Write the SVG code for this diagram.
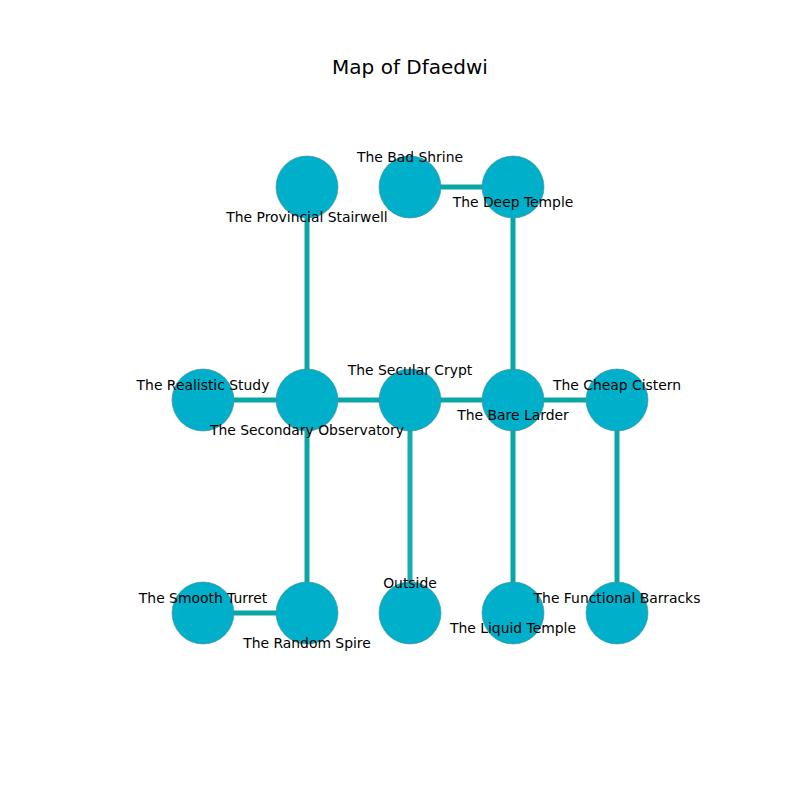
<svg xmlns="http://www.w3.org/2000/svg" width="800" height="800" viewBox="0 0 800 800">
<style>
.e{stroke:#0aa5a5;stroke-width:5;fill:none}
.n{fill:#00b0ca;stroke:#4a8a94;stroke-width:0.6}
.l{font-family:"DejaVu Sans",sans-serif;font-size:13.9px;fill:#000;text-anchor:middle}
.t{font-family:"DejaVu Sans",sans-serif;font-size:20px;fill:#000;text-anchor:middle}
</style>
<rect width="800" height="800" fill="#fff"/>
<text class="t" x="410" y="74">Map of Dfaedwi</text>
<g id="connectors">
<line class="e" x1="410" y1="187" x2="513" y2="187"/>
<line class="e" x1="307" y1="187" x2="307" y2="400"/>
<line class="e" x1="513" y1="187" x2="513" y2="400"/>
<line class="e" x1="203" y1="400" x2="307" y2="400"/>
<line class="e" x1="307" y1="400" x2="410" y2="400"/>
<line class="e" x1="410" y1="400" x2="513" y2="400"/>
<line class="e" x1="513" y1="400" x2="617" y2="400"/>
<line class="e" x1="307" y1="400" x2="307" y2="613"/>
<line class="e" x1="410" y1="400" x2="410" y2="613" style="stroke:#14adad"/>
<line class="e" x1="513" y1="400" x2="513" y2="613"/>
<line class="e" x1="617" y1="400" x2="617" y2="613"/>
<line class="e" x1="203" y1="613" x2="307" y2="613"/>
</g>
<g id="nodes">
<g id="provincial-stairwell"><circle class="n" cx="307" cy="187" r="31"/></g>
<g id="bad-shrine"><circle class="n" cx="410" cy="187" r="31"/></g>
<g id="deep-temple"><circle class="n" cx="513" cy="187" r="31"/></g>
<g id="realistic-study"><circle class="n" cx="203" cy="400" r="31"/></g>
<g id="secondary-observatory"><circle class="n" cx="307" cy="400" r="31"/></g>
<g id="secular-crypt"><circle class="n" cx="410" cy="400" r="31"/></g>
<g id="bare-larder"><circle class="n" cx="513" cy="400" r="31"/></g>
<g id="cheap-cistern"><circle class="n" cx="617" cy="400" r="31"/></g>
<g id="smooth-turret"><circle class="n" cx="203" cy="613" r="31"/></g>
<g id="random-spire"><circle class="n" cx="307" cy="613" r="31"/></g>
<g id="outside"><circle class="n" cx="410" cy="613" r="31"/></g>
<g id="liquid-temple"><circle class="n" cx="513" cy="613" r="31"/></g>
<g id="functional-barracks"><circle class="n" cx="617" cy="613" r="31"/></g>
</g>
<g id="labels">
<text class="l" x="410" y="162">The Bad Shrine</text>
<text class="l" x="307" y="222">The Provincial Stairwell</text>
<text class="l" x="513" y="207">The Deep Temple</text>
<text class="l" x="203" y="390">The Realistic Study</text>
<text class="l" x="410" y="375">The Secular Crypt</text>
<text class="l" x="617" y="390">The Cheap Cistern</text>
<text class="l" x="307" y="435">The Secondary Observatory</text>
<text class="l" x="513" y="420">The Bare Larder</text>
<text class="l" x="203" y="603">The Smooth Turret</text>
<text class="l" x="410" y="588">Outside</text>
<text class="l" x="617" y="603">The Functional Barracks</text>
<text class="l" x="307" y="648">The Random Spire</text>
<text class="l" x="513" y="633">The Liquid Temple</text>
</g>
</svg>
